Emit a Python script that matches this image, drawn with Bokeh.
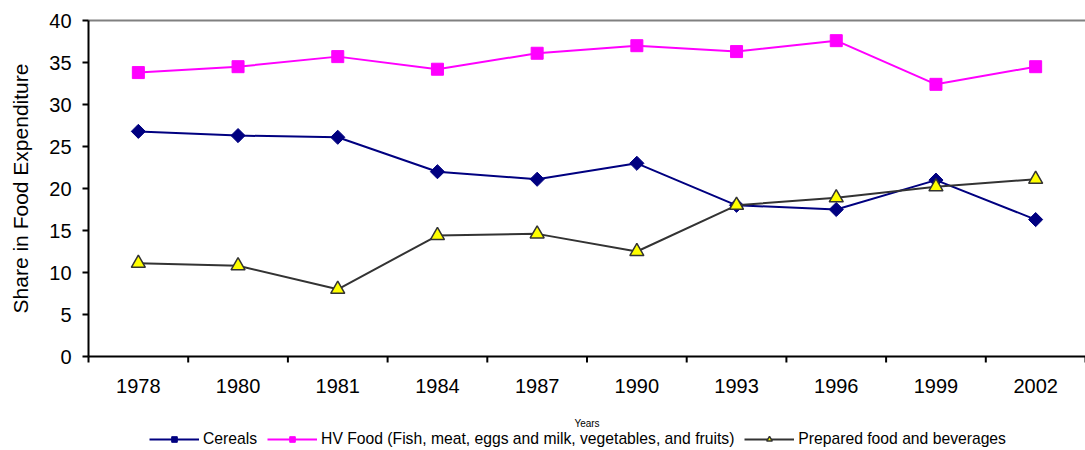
import numpy as np
from bokeh.plotting import figure
from bokeh.models import Range1d, Legend, LegendItem
from bokeh.core.properties import value
from bokeh.embed import file_html
from bokeh.resources import INLINE

years = ["1978", "1980", "1981", "1984", "1987", "1990", "1993", "1996", "1999", "2002"]
cereals = [26.8, 26.3, 26.1, 22.0, 21.1, 23.0, 18.0, 17.5, 21.0, 16.3]
hv_food = [33.8, 34.5, 35.7, 34.2, 36.1, 37.0, 36.3, 37.6, 32.4, 34.5]
prepared = [11.1, 10.8, 8.0, 14.4, 14.6, 12.5, 18.0, 18.9, 20.2, 21.1]
y_ticks = [0, 5, 10, 15, 20, 25, 30, 35, 40]
y_label = "Share in Food Expenditure"
x_label = "Years"

FONT = "Liberation Sans"
W, H = 1085, 450
LEFT, TOP, PW, PH = 88, 20, 997, 336      # plot-area layout in pixels
n = len(years)
xs = np.arange(n) + 0.5
YMAX = y_ticks[-1]

ux = n / PW           # data units per pixel (x)
uy = YMAX / PH        # data units per pixel (y)
p = figure(width=W, height=H, output_backend="svg", toolbar_location=None,
           x_range=Range1d(-LEFT * ux, n),
           y_range=Range1d(-(H - TOP - PH) * uy, YMAX + TOP * uy),
           min_border=0, x_axis_location=None, y_axis_location=None)
p.grid.visible = False
p.outline_line_color = None
p.background_fill_color = "white"
p.border_fill_color = "white"

# plot-area frame: grey top border, black axes
p.segment(x0=[0], y0=[YMAX], x1=[n], y1=[YMAX], line_color="#808080", line_width=2)
p.segment(x0=[0], y0=[0], x1=[n], y1=[0], line_color="black", line_width=2)
p.segment(x0=[0], y0=[0], x1=[0], y1=[YMAX], line_color="black", line_width=2)

# y ticks and labels
p.ray(x=[0] * len(y_ticks), y=y_ticks, length=6, length_units="screen", angle=np.pi,
      line_color="black", line_width=2)
p.text(x=[0] * len(y_ticks), y=y_ticks, text=[str(t) for t in y_ticks], x_offset=-17,
       text_align="right", text_baseline="middle", text_font=value(FONT),
       text_font_size="20px", text_color="black")

# x ticks at category boundaries, labels at centres
bounds = list(range(n + 1))
p.ray(x=bounds, y=[0] * len(bounds), length=6, length_units="screen", angle=-np.pi / 2,
      line_color="black", line_width=2)
p.text(x=xs, y=[0] * n, text=years, y_offset=29, text_align="center", text_baseline="middle",
       text_font=value(FONT), text_font_size="20px", text_color="black")

# axis titles
p.text(x=[n / 2], y=[0], text=[x_label], y_offset=67, text_align="center", text_baseline="middle",
       text_font=value(FONT), text_font_size="10px", text_color="black")
p.text(x=[0], y=[YMAX / 2], text=[y_label], x_offset=-68, angle=np.pi / 2,
       text_align="center", text_baseline="middle",
       text_font=value(FONT), text_font_size="21px", text_color="black")

# series
l1 = p.line(xs, cereals, line_color="#000080", line_width=2)
s1 = p.scatter(xs, cereals, marker="square", angle=np.pi / 4, size=10,
               fill_color="#000080", line_color="#000080")
l2 = p.line(xs, hv_food, line_color="#FF00FF", line_width=2)
s2 = p.scatter(xs, hv_food, marker="square", size=12, fill_color="#FF00FF", line_color="#FF00FF")
l3 = p.line(xs, prepared, line_color="#333333", line_width=2)
s3 = p.scatter(xs, prepared, marker="triangle", size=14, fill_color="#FFFF00",
               line_color="#333333", line_width=1.5)

legend = Legend(items=[
    LegendItem(label="Cereals", renderers=[l1, s1]),
    LegendItem(label="HV Food (Fish, meat, eggs and milk, vegetables, and fruits)", renderers=[l2, s2]),
    LegendItem(label="Prepared food and beverages", renderers=[l3, s3]),
], orientation="horizontal", location=(149, 2))
legend.label_text_font = FONT
legend.label_text_font_size = "15.7px"
legend.label_text_color = "black"
legend.label_height = 14
legend.glyph_width = 50
legend.glyph_height = 14
legend.spacing = 10
legend.padding = 0
legend.margin = 0
legend.border_line_color = None
legend.background_fill_alpha = 0
legend.label_standoff = 4
p.add_layout(legend, "center")

open("out.html", "w").write(file_html(p, INLINE))
